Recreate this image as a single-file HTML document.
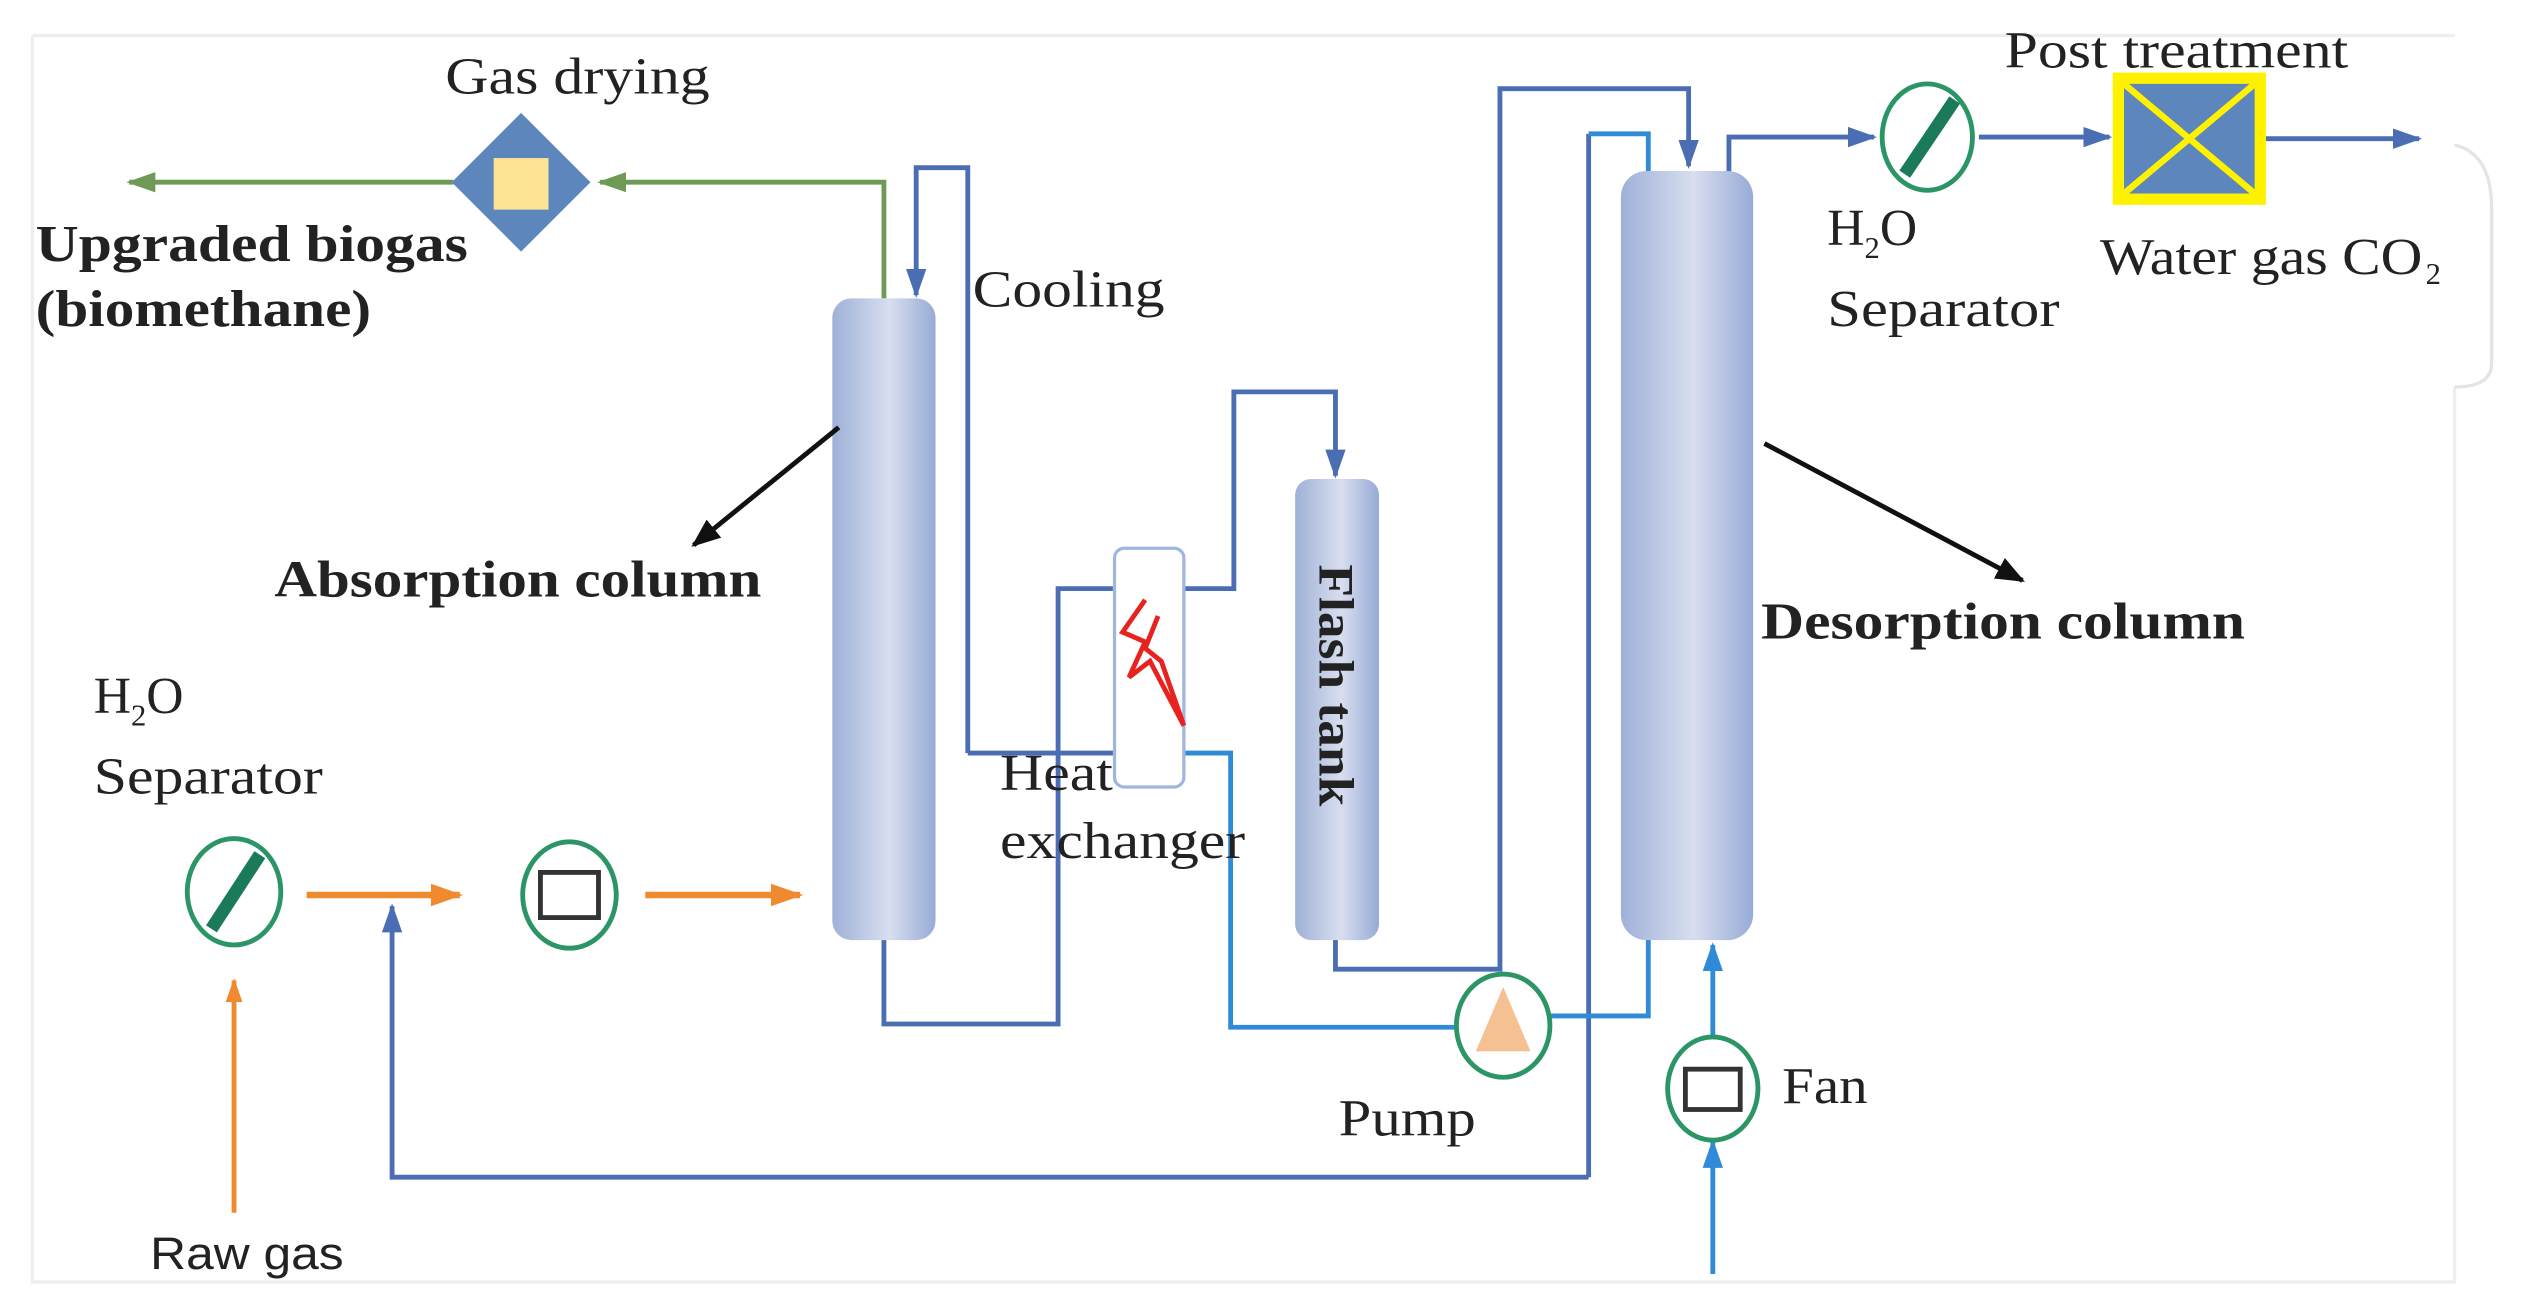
<!DOCTYPE html>
<html><head><meta charset="utf-8"><style>
html,body{margin:0;padding:0;background:#fff;}
svg{display:block;}
text{font-family:"Liberation Serif",serif;fill:#222;}
.b{font-weight:bold;}
</style></head><body>
<svg width="2529" height="1303" viewBox="0 0 1568 808" xmlns="http://www.w3.org/2000/svg">
<defs>
<linearGradient id="col" x1="0" x2="1" y1="0" y2="0">
<stop offset="0" stop-color="#9fb1d8"/><stop offset="0.55" stop-color="#d8deee"/><stop offset="1" stop-color="#97abd6"/>
</linearGradient>
<marker id="ab" viewBox="0 0 10 10" refX="9" refY="5" markerWidth="6" markerHeight="6" orient="auto"><path d="M0,1.5 L10,5 L0,8.5 Z" fill="#4a6db3"/></marker>
<marker id="al" viewBox="0 0 10 10" refX="9" refY="5" markerWidth="6" markerHeight="6" orient="auto"><path d="M0,1.5 L10,5 L0,8.5 Z" fill="#2f8ad8"/></marker>
<marker id="ag" viewBox="0 0 10 10" refX="9" refY="5" markerWidth="6" markerHeight="6" orient="auto"><path d="M0,1.5 L10,5 L0,8.5 Z" fill="#6f9a55"/></marker>
<marker id="ao" viewBox="0 0 10 10" refX="9" refY="5" markerWidth="5" markerHeight="5" orient="auto"><path d="M0,1.5 L10,5 L0,8.5 Z" fill="#ef8a2e"/></marker>
<marker id="ak" viewBox="0 0 10 10" refX="9" refY="5" markerWidth="6" markerHeight="6" orient="auto"><path d="M0,1 L10,5 L0,9 Z" fill="#111"/></marker>
</defs>
<rect x="0" y="0" width="1568" height="808" fill="#fff"/>
<path d="M20,22 H1522 M20,22 V795 H1522 V240" stroke="#eee" stroke-width="2" fill="none"/>
<path d="M1522,90 Q1545,95 1545,130 V225 Q1545,240 1522,240" stroke="#e4e4e4" stroke-width="2" fill="none"/>

<path d="M548,185 V113 H372" stroke="#6f9a55" stroke-width="3" fill="none" marker-end="url(#ag)"/>
<path d="M281,113 H80" stroke="#6f9a55" stroke-width="3" fill="none" marker-end="url(#ag)"/>
<polygon points="323,70 366,113 323,156 280,113" fill="#5d86bd"/>
<rect x="306" y="98" width="34" height="32" fill="#fde394"/>

<g fill="none" stroke="#4a6db3" stroke-width="3">
<path d="M600,467 V104 H568 V183" marker-end="url(#ab)"/>
<path d="M600,467 H690"/>
<path d="M735,365 H765 V243 H828 V295" marker-end="url(#ab)"/>
<path d="M690,365 H656 V635 H548 V582"/>
<path d="M828,582 V601 H930 V55 H1047 V103" marker-end="url(#ab)"/>
<path d="M1072,107 V85 H1162" marker-end="url(#ab)"/>
<path d="M1227,85 H1308" marker-end="url(#ab)"/>
<path d="M1405,86 H1500" marker-end="url(#ab)"/>
<path d="M985,730 H243 V562" marker-end="url(#ab)"/>
<path d="M985,730 V83"/>
</g>
<g fill="none" stroke="#2f8ad8" stroke-width="3">
<path d="M985,83 H1022 V107"/>
<path d="M735,467 H763 V637 H903"/>
<path d="M961,630 H1022 V582"/>
<path d="M1062,642 V586" marker-end="url(#al)"/>
<path d="M1062,790 V708" marker-end="url(#al)"/>
</g>

<rect x="516" y="185" width="64" height="398" rx="12" fill="url(#col)"/>
<rect x="803" y="297" width="52" height="286" rx="10" fill="url(#col)"/>
<rect x="1005" y="106" width="82" height="477" rx="16" fill="url(#col)"/>
<text class="b" font-size="31" textLength="150" lengthAdjust="spacingAndGlyphs" transform="translate(818,350) rotate(90)">Flash tank</text>

<rect x="691" y="340" width="43" height="148" rx="6" fill="#fff" stroke="#9fb6de" stroke-width="2"/>
<path d="M710,372 L696,392 L710,398 L700,420 L713,410 L734,450 L720,410 L710,402 L718,382" fill="none" stroke="#e8231f" stroke-width="3"/>

<ellipse cx="932" cy="636" rx="29" ry="32" fill="#fff" stroke="#2b9566" stroke-width="3"/>
<polygon points="932,612 915,652 949,652" fill="#f5c193"/>

<ellipse cx="1062" cy="675" rx="28" ry="32" fill="#fff" stroke="#2b9566" stroke-width="3"/>
<rect x="1045" y="663" width="34" height="25" fill="none" stroke="#333" stroke-width="3"/>

<ellipse cx="1195" cy="85" rx="28" ry="33" fill="#fff" stroke="#2b9566" stroke-width="3"/>
<line x1="1181" y1="108" x2="1212" y2="62" stroke="#1a7a5a" stroke-width="8"/>
<rect x="1310" y="45" width="95" height="82" fill="#fff200"/>
<rect x="1317" y="52" width="81" height="68" fill="#5d86bd"/>
<path d="M1317,52 L1398,120 M1398,52 L1317,120" stroke="#fff200" stroke-width="4"/>

<ellipse cx="145" cy="553" rx="29" ry="33" fill="#fff" stroke="#2b9566" stroke-width="3"/>
<line x1="131" y1="576" x2="161" y2="530" stroke="#1a7a5a" stroke-width="8"/>
<ellipse cx="353" cy="555" rx="29" ry="33" fill="#fff" stroke="#2b9566" stroke-width="3"/>
<rect x="335" y="541" width="36" height="28" fill="none" stroke="#333" stroke-width="3"/>
<g stroke="#ef8a2e" stroke-width="4" fill="none">
<path d="M190,555 H285" marker-end="url(#ao)"/>
<path d="M400,555 H496" marker-end="url(#ao)"/>
</g>
<path d="M145,752 V608" stroke="#ef8a2e" stroke-width="3" fill="none" marker-end="url(#ao)"/>

<line x1="520" y1="265" x2="430" y2="338" stroke="#111" stroke-width="3" marker-end="url(#ak)"/>
<line x1="1094" y1="275" x2="1254" y2="360" stroke="#111" stroke-width="3" marker-end="url(#ak)"/>

<g font-size="32">
<text x="276" y="58" textLength="164" lengthAdjust="spacingAndGlyphs">Gas drying</text>
<text class="b" x="22" y="162" textLength="268" lengthAdjust="spacingAndGlyphs">Upgraded biogas</text>
<text class="b" x="22" y="202" textLength="208" lengthAdjust="spacingAndGlyphs">(biomethane)</text>
<text x="603" y="190" textLength="119" lengthAdjust="spacingAndGlyphs">Cooling</text>
<text class="b" x="170" y="370" textLength="302" lengthAdjust="spacingAndGlyphs">Absorption column</text>
<text x="58" y="442">H<tspan font-size="19" dy="8">2</tspan><tspan dy="-8">O</tspan></text>
<text x="58" y="492" textLength="142" lengthAdjust="spacingAndGlyphs">Separator</text>
<text x="620" y="490" textLength="70" lengthAdjust="spacingAndGlyphs">Heat</text>
<text x="620" y="532" textLength="152" lengthAdjust="spacingAndGlyphs">exchanger</text>
<text class="b" x="1092" y="396" textLength="300" lengthAdjust="spacingAndGlyphs">Desorption column</text>
<text x="830" y="704" textLength="85" lengthAdjust="spacingAndGlyphs">Pump</text>
<text x="1105" y="684" textLength="53" lengthAdjust="spacingAndGlyphs">Fan</text>
<text x="93" y="787" font-size="28" textLength="120" lengthAdjust="spacingAndGlyphs" style="font-family:'Liberation Sans',sans-serif">Raw gas</text>
<text x="1243" y="42" textLength="213" lengthAdjust="spacingAndGlyphs">Post treatment</text>
<text x="1133" y="152">H<tspan font-size="19" dy="8">2</tspan><tspan dy="-8">O</tspan></text>
<text x="1133" y="202" textLength="144" lengthAdjust="spacingAndGlyphs">Separator</text>
<text x="1302" y="170" textLength="200" lengthAdjust="spacingAndGlyphs">Water gas CO</text><text x="1504" y="176" font-size="19">2</text>
</g>
</svg>
</body></html>
